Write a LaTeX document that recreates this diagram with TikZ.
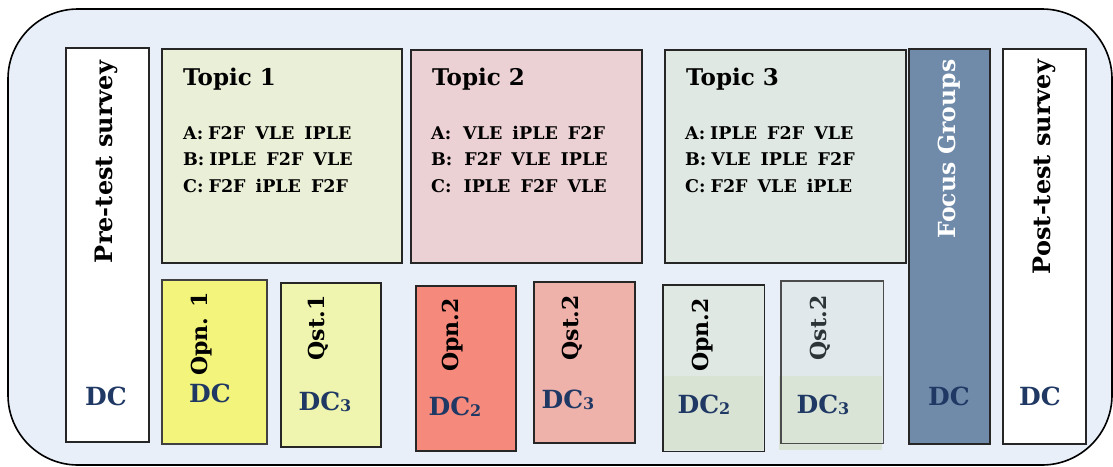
\documentclass[tikz,border=0pt]{standalone}
\usepackage{fontspec}
\setmainfont{DejaVu Serif}
\definecolor{frame}{HTML}{E8EFF8}
\definecolor{topicA}{HTML}{EAEFD7}
\definecolor{topicB}{HTML}{EBD0D4}
\definecolor{topicC}{HTML}{DFE8E3}
\definecolor{focus}{HTML}{6F8BA9}
\definecolor{opnA}{HTML}{F3F47B}
\definecolor{qstA}{HTML}{EFF5AE}
\definecolor{opnB}{HTML}{F4897C}
\definecolor{qstB}{HTML}{EFB2AB}
\definecolor{greenTop}{HTML}{DFE8E3}
\definecolor{greenBot}{HTML}{D8E3D4}
\definecolor{greyTop}{HTML}{E0E8EB}
\definecolor{greyBot}{HTML}{D9E4D6}
\definecolor{dcblue}{HTML}{1F3864}
\definecolor{qsttext}{HTML}{2C3438}
\newcommand{\sub}[1]{\raisebox{-1.5pt}{\fontsize{16}{16}\selectfont #1}}
\newcommand{\gp}{\hspace{10pt}}
\newcommand{\cg}{\hspace{5pt}}
\newcommand{\cw}{\hspace{12pt}}
\begin{document}
\begin{tikzpicture}[x=1pt,y=-1pt,
  box/.style={draw=black!85,line width=1.6pt,anchor=north west,inner sep=0pt},
  vlabel/.style={rotate=90,font=\bfseries\fontsize{24}{28}\selectfont,inner sep=0pt},
  slabel/.style={rotate=90,font=\bfseries\fontsize{22}{26}\selectfont,inner sep=0pt},
  title/.style={anchor=base west,font=\bfseries\fontsize{23}{28}\selectfont,inner sep=0pt},
  items/.style={anchor=north west,align=left,font=\bfseries\fontsize{17.5}{26.5}\selectfont,inner sep=0pt},
  dc/.style={anchor=base,text=dcblue,font=\bfseries\fontsize{25}{28}\selectfont,inner sep=0pt}]
\useasboundingbox (0,0) rectangle (1113,466);
% outer frame
\draw[fill=frame,line width=1.6pt,rounded corners=70pt] (8,9) rectangle (1112,465);

% tall columns
\node[box,fill=white,minimum width=83pt,minimum height=394pt] (pre) at (65,47) {};
\node[box,fill=focus,minimum width=81pt,minimum height=395pt] (fg) at (908,48) {};
\node[box,fill=white,minimum width=83pt,minimum height=395pt] (post) at (1002,48) {};

% topic boxes
\node[box,fill=topicA,minimum width=240pt,minimum height=214pt] (t1) at (161,48) {};
\node[box,fill=topicB,minimum width=231pt,minimum height=213pt] (t2) at (410,49) {};
\node[box,fill=topicC,minimum width=241pt,minimum height=213pt] (t3) at (664,49) {};

% activity boxes
\node[box,fill=opnA,draw=black!75,minimum width=105pt,minimum height=164pt] (o1) at (161,279) {};
\node[box,fill=qstA,minimum width=100pt,minimum height=164pt] (q1) at (280,282) {};
\node[box,fill=opnB,minimum width=100pt,minimum height=165pt] (o2) at (415,285) {};
\node[box,fill=qstB,minimum width=101pt,minimum height=161pt] (q2) at (533,281) {};
\node[box,draw=none,fill=greenTop,minimum width=100pt,minimum height=165pt] (o3) at (663,285) {};
\fill[greenBot] (663,376) rectangle (763,450);
\draw[black!85,line width=1.6pt] (o3.north west) rectangle (o3.south east);
\node[box,draw=none,fill=greyTop,minimum width=101pt,minimum height=161pt] (q3) at (781,281) {};
\fill[greyBot] (779,376) rectangle (882,450);
\draw[black!70,line width=1.6pt] (q3.north west) rectangle (q3.south east);

% column labels
\node[vlabel] (preL) at (106,162) {Pre-test survey};
\node[vlabel,text=white,font=\bfseries\fontsize{23.5}{28}\selectfont] (fgL) at (949,149) {Focus Groups};
\node[vlabel] (postL) at (1044,167) {Post-test survey};

% topic contents
\node[title] (t1T) at (183,85) {Topic 1};
\node[items] (t1L) at (183,126) {A:\cg F2F\gp VLE\gp IPLE\\B:\cg IPLE\gp F2F\gp VLE\\C:\cg F2F\gp iPLE\gp F2F};
\node[title] (t2T) at (432,85) {Topic 2};
\node[items] (t2L) at (431,126) {A:\cw VLE\gp iPLE\gp F2F\\B:\cw F2F\gp VLE\gp IPLE\\C:\cw IPLE\gp F2F\gp VLE};
\node[title] (t3T) at (686,85) {Topic 3};
\node[items] (t3L) at (685,126) {A:\cg IPLE\gp F2F\gp VLE\\B:\cg VLE\gp IPLE\gp F2F\\C:\cg F2F\gp VLE\gp iPLE};

% activity labels
\node[slabel] (o1L) at (202,334) {Opn. 1};
\node[slabel] (q1L) at (318,328) {Qst.1};
\node[slabel] (o2L) at (453,335) {Opn.2};
\node[slabel] (q2L) at (572,328) {Qst.2};
\node[slabel] (o3L) at (703,335) {Opn.2};
\node[slabel,text=qsttext] (q3L) at (820,328) {Qst.2};

% data collection marks
\node[dc] (preD) at (106,405) {DC};
\node[dc] (fgD) at (949,405) {DC};
\node[dc] (postD) at (1040,405) {DC};
\node[dc] (o1D) at (210,402) {DC};
\node[dc] (q1D) at (325,410) {DC\sub{3}};
\node[dc] (o2D) at (455,415) {DC\sub{2}};
\node[dc] (q2D) at (568,408) {DC\sub{3}};
\node[dc] (o3D) at (704,413) {DC\sub{2}};
\node[dc] (q3D) at (823,413) {DC\sub{3}};
\end{tikzpicture}
\end{document}
